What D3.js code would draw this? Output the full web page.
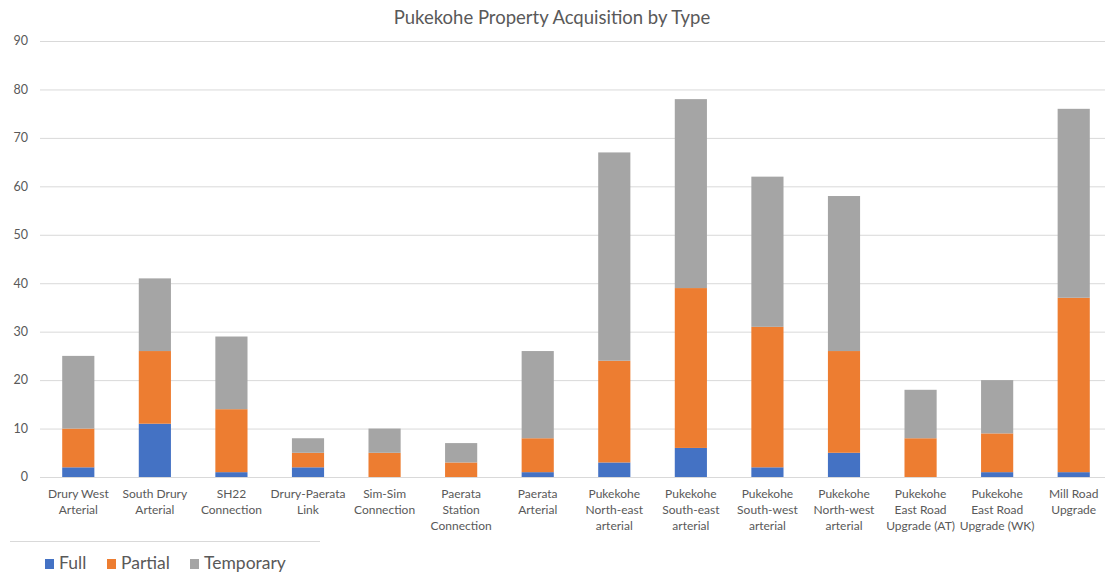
<!DOCTYPE html>
<html>
<head>
<script src="https://d3js.org/d3.v7.min.js"></script>
<style>
  body { margin: 0; background: #fff; }
  text { font-family: Lato, "Liberation Sans", sans-serif; fill: #595959; }
</style>
</head>
<body>
<div class="chart"></div>
<script>
var categories = [
  ["Drury West", "Arterial"],
  ["South Drury", "Arterial"],
  ["SH22", "Connection"],
  ["Drury-Paerata", "Link"],
  ["Sim-Sim", "Connection"],
  ["Paerata", "Station", "Connection"],
  ["Paerata", "Arterial"],
  ["Pukekohe", "North-east", "arterial"],
  ["Pukekohe", "South-east", "arterial"],
  ["Pukekohe", "South-west", "arterial"],
  ["Pukekohe", "North-west", "arterial"],
  ["Pukekohe", "East Road", "Upgrade (AT)"],
  ["Pukekohe", "East Road", "Upgrade (WK)"],
  ["Mill Road", "Upgrade"]
];
var full      = [2, 11, 1, 2, 0, 0, 1, 3, 6, 2, 5, 0, 1, 1];
var partial   = [8, 15, 13, 3, 5, 3, 7, 21, 33, 29, 21, 8, 8, 36];
var temporary = [15, 15, 15, 3, 5, 4, 18, 43, 39, 31, 32, 10, 11, 39];
var seriesNames = ["Full", "Partial", "Temporary"];
var colors = ["#4472C4", "#ED7D31", "#A5A5A5"];
var yTicks = [0, 10, 20, 30, 40, 50, 60, 70, 80, 90];

var w = 1107, h = 573;
var svg = d3.select(".chart").append("svg")
  .attr("width", w).attr("height", h);

var rows = categories.map(function(c, i) {
  return { key: i, Full: full[i], Partial: partial[i], Temporary: temporary[i] };
});
var stack = d3.stack().keys(seriesNames)(rows);

var x = d3.scaleBand().domain(d3.range(categories.length))
  .range([40, 1112]).paddingInner(0.58).paddingOuter(0.29);
var y = d3.scaleLinear().domain([0, 90]).range([477, 41]);

// gridlines
svg.append("g").selectAll("line").data(yTicks).enter().append("line")
  .attr("x1", 40).attr("x2", 1105)
  .attr("y1", function(d) { return y(d) + 0.5; })
  .attr("y2", function(d) { return y(d) + 0.5; })
  .attr("stroke", "#D9D9D9").attr("stroke-width", 1);

svg.append("g").selectAll("text").data(yTicks).enter().append("text")
  .attr("x", 28).attr("y", function(d) { return y(d); })
  .attr("dy", "0.35em").attr("text-anchor", "end")
  .style("font-size", "12.5px")
  .text(function(d) { return d; });

// bars
svg.append("g").selectAll("g").data(stack).enter().append("g")
  .attr("fill", function(d, i) { return colors[i]; })
  .selectAll("rect").data(function(d) { return d; }).enter().append("rect")
  .attr("x", function(d) { return x(d.data.key); })
  .attr("width", x.bandwidth())
  .attr("y", function(d) { return y(d[1]); })
  .attr("height", function(d) { return y(d[0]) - y(d[1]); });

// x labels
var lab = svg.append("g").selectAll("text").data(categories).enter().append("text")
  .attr("text-anchor", "middle")
  .attr("x", function(d, i) { return x(i) + x.bandwidth() / 2; })
  .attr("y", 498)
  .style("font-size", "12px");
lab.selectAll("tspan").data(function(d) { return d; }).enter().append("tspan")
  .attr("x", function() { return d3.select(this.parentNode).attr("x"); })
  .attr("dy", function(d, i) { return i === 0 ? 0 : 16; })
  .text(function(d) { return d; });

// title
svg.append("text").attr("x", 552).attr("y", 24)
  .attr("text-anchor", "middle").style("font-size", "18.5px")
  .text("Pukekohe Property Acquisition by Type");

// legend
svg.append("line").attr("x1", 10).attr("x2", 320).attr("y1", 541.5).attr("y2", 541.5)
  .attr("stroke", "#D9D9D9");
var legX = [45, 107, 190];
var leg = svg.append("g").selectAll("g").data(seriesNames).enter().append("g")
  .attr("transform", function(d, i) { return "translate(" + legX[i] + ",563)"; });
leg.append("rect").attr("x", 0).attr("y", -4).attr("width", 9).attr("height", 10)
  .attr("fill", function(d, i) { return colors[i]; });
leg.append("text").attr("x", 14).attr("y", 0).attr("dy", "0.35em")
  .style("font-size", "17.5px")
  .text(function(d) { return d; });
</script>
</body>
</html>
